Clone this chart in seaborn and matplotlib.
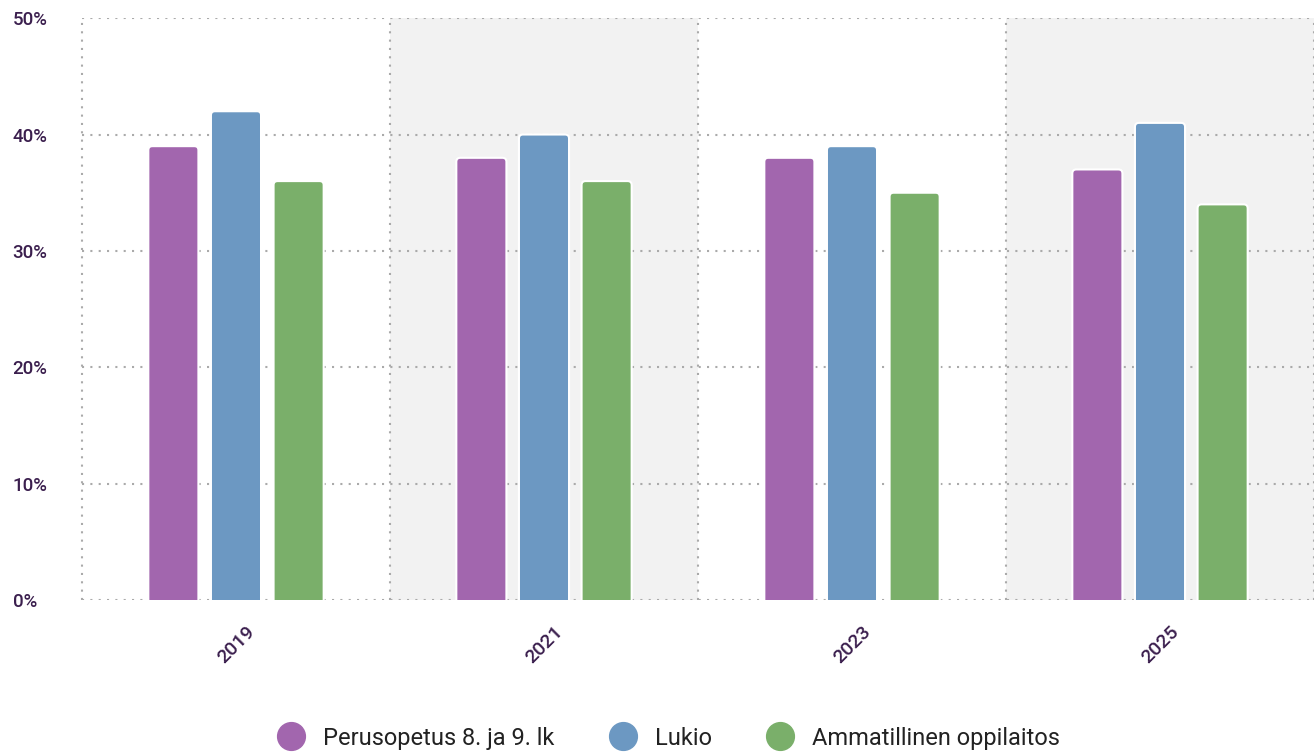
import matplotlib
matplotlib.use("Agg")
import matplotlib.pyplot as plt
import seaborn as sns
import pandas as pd
from matplotlib.patches import FancyBboxPatch
from matplotlib.lines import Line2D

# data
years = ["2019", "2021", "2023", "2025"]
perusopetus = [39, 38, 38, 37]
lukio = [42, 40, 39, 41]
ammatillinen = [36, 36, 35, 34]
series_names = ["Perusopetus 8. ja 9. lk", "Lukio", "Ammatillinen oppilaitos"]
colors = ["#a266ae", "#6c98c2", "#7aaf6a"]
text_color = "#3b1f4e"

rows = []
for name, vals in zip(series_names, [perusopetus, lukio, ammatillinen]):
    for y, v in zip(years, vals):
        rows.append({"Vuosi": y, "Sarja": name, "Arvo": v})
df = pd.DataFrame(rows)

sns.set_style("white")
plt.rcParams["font.family"] = ["Roboto", "DejaVu Sans"]

fig = plt.figure(figsize=(13.14, 7.54), dpi=100)
ax = fig.add_axes([0.0624, 0.204, 0.9376, 0.772])

sns.barplot(data=df, x="Vuosi", y="Arvo", hue="Sarja", palette=colors,
            saturation=1, width=0.61, gap=0.2, edgecolor="white",
            linewidth=1.5, legend=False, ax=ax, zorder=3)

ax.set_xlim(-0.5, len(years) - 0.5)
ax.set_ylim(0, 50)

# rounded bar tops
px_x = 1.0 / 308
px_y = 50 / 582
r = 4
for p in list(ax.patches):
    x0, y0 = p.get_x(), p.get_y()
    w, h = p.get_width(), p.get_height()
    fb = FancyBboxPatch((x0, y0 - r * px_y), w, h + r * px_y,
                        boxstyle=f"round,pad=0,rounding_size={r * px_x}",
                        mutation_aspect=px_y / px_x,
                        facecolor=p.get_facecolor(), edgecolor="white",
                        linewidth=1.5, zorder=3)
    p.remove()
    ax.add_patch(fb)

# alternating band background
for i in range(len(years)):
    if i % 2 == 1:
        ax.axvspan(i - 0.5, i + 0.5, color="#f2f2f2", zorder=0, lw=0)

# dotted grid
for yv in range(0, 51, 10):
    ax.axhline(yv, color="#aaaaaa", ls=(0, (1, 3)), lw=1.5, zorder=1)
for xv in range(len(years) + 1):
    ax.axvline(xv - 0.5, color="#aaaaaa", ls=(0, (1, 3)), lw=1.5, zorder=1,
               clip_on=False)

for s in ax.spines.values():
    s.set_visible(False)

ax.set_yticks(range(0, 51, 10))
ax.set_yticklabels([f"{v}%" for v in range(0, 51, 10)], fontweight="medium")
ax.tick_params(axis="y", length=0, pad=50, labelsize=13.5, labelcolor=text_color)
for lab in ax.get_yticklabels():
    lab.set_horizontalalignment("left")
ax.tick_params(axis="x", length=0, pad=16, labelsize=14, labelcolor=text_color)
plt.setp(ax.get_xticklabels(), rotation=45, ha="center", fontweight="medium")
ax.set_xlabel("")
ax.set_ylabel("")

handles = [Line2D([], [], marker="o", ls="", markersize=20, color=c) for c in colors]
fig.legend(handles, series_names, loc="center", bbox_to_anchor=(0.505, 0.021),
           ncol=3, frameon=False, fontsize=17, handletextpad=0.35,
           columnspacing=1.9, labelcolor="#222222")

fig.savefig("out.png", dpi=100)
